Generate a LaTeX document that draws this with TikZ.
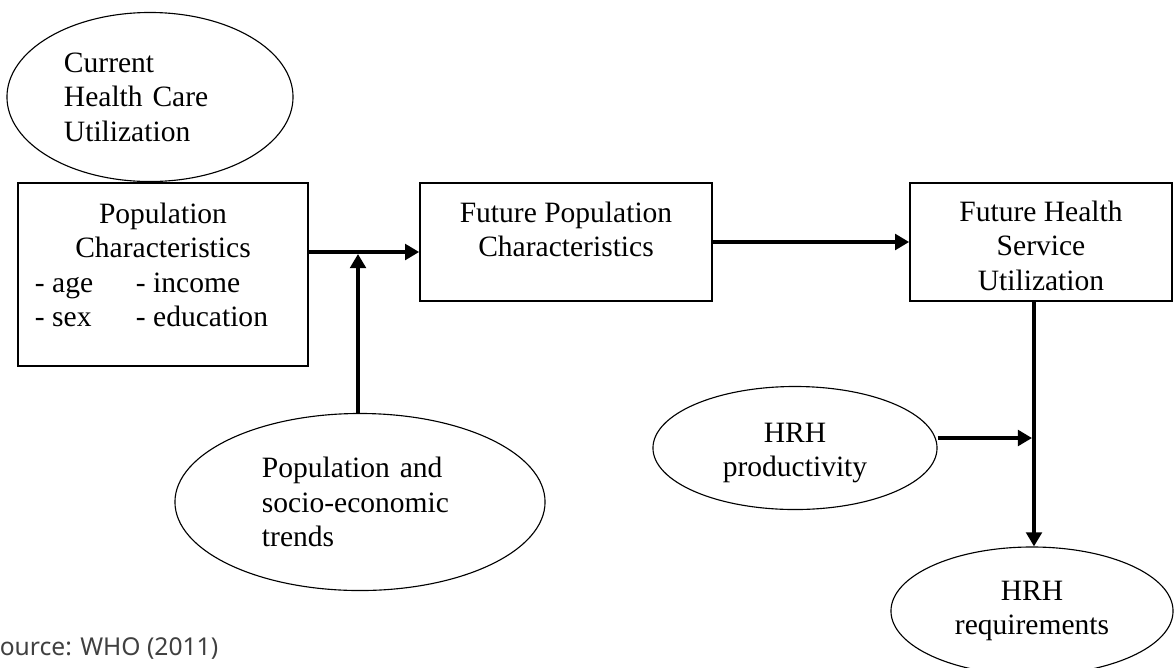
\documentclass[tikz,border=0pt]{standalone}
\usepackage{fontspec}
\setmainfont{Liberation Serif}
\newfontfamily\sourcefont{Noto Sans}
\usetikzlibrary{arrows.meta,shapes.geometric}

\begin{document}
\begin{tikzpicture}[x=0.025cm,y=-0.025cm,
        font=\fontsize{21}{24.5}\selectfont,
        box/.style={draw,line width=1.1pt,inner sep=0pt,align=center},
        oval/.style={draw,ellipse,line width=0.8pt,inner sep=0pt},
        flow/.style={line width=3pt,-{Triangle[length=10pt,width=11pt]}}]
        \useasboundingbox (0,0) rectangle (1175,667);
        % left column
        \node[oval,minimum width=7.15cm,minimum height=4.225cm,text width=4.3cm,align=left] (curutil) at (150,97) {Current\\Health Care\\Utilization};
        \node[box,minimum width=7.25cm,minimum height=4.575cm] (popchar) at (163,274.5) {Population\\Characteristics\\
            \makebox[6.4cm][l]{\makebox[2.525cm][l]{- age}- income}\\
            \makebox[6.4cm][l]{\makebox[2.525cm][l]{- sex}- education}\\[-10.5pt]\mbox{}};
        \node[oval,minimum width=9.25cm,minimum height=4.425cm,text width=4.9cm,align=left] (trends) at (360,502) {Population and\\socio-economic\\trends};
        % middle and right
        \node[box,minimum width=7.3cm,minimum height=2.95cm] (futpop) at (566,242) {Future Population\\Characteristics\\[-6pt]\mbox{}};
        \node[box,minimum width=6.55cm,minimum height=2.95cm] (futhsu) at (1041,242) {\rule{0pt}{20pt}Future Health\\Service\\Utilization};
        \node[oval,minimum width=7.1cm,minimum height=3.075cm,align=center] (hrhprod) at (795,448) {\rule{0pt}{21pt}HRH\\productivity};
        \node[oval,minimum width=7.05cm,minimum height=3.2cm,align=center] (hrhreq) at (1032,611) {HRH\\requirements};
        \node[font=\sourcefont\fontsize{17.5}{20}\selectfont,text=black!75,anchor=base west,inner sep=0pt] (source) at (-14,655) {Source: WHO (2011)};

        \coordinate (join) at (358,252);
        \coordinate (tap) at (1034,438);
        \draw[flow] (popchar.east |- join) -- (futpop.west |- join);
        \draw[flow,shorten >=1.4pt] (trends.north -| join) -- (join);
        \draw[flow] (futpop.east) -- (futhsu.west);
        \draw[flow] (futhsu.south -| tap) -- (hrhreq.north -| tap);
        \draw[flow,shorten >=1.4pt] (hrhprod.east |- tap) -- (tap);
\end{tikzpicture}
\end{document}
